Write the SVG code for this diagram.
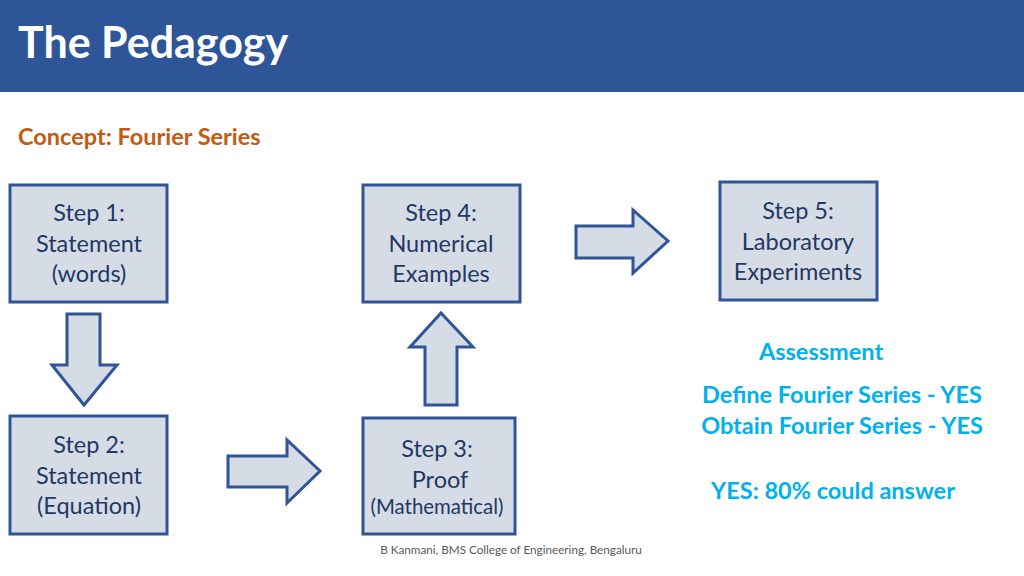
<svg xmlns="http://www.w3.org/2000/svg" width="1024" height="576" viewBox="0 0 1024 576">
<style>
.box{fill:#D6DCE5;stroke:#2F5597;stroke-width:3}
.arr{fill:#D6DCE5;stroke:#2F5597;stroke-width:3;stroke-linejoin:miter}
.t{font-family:Lato,"Open Sans",sans-serif;font-size:23.5px;fill:#1F3864;text-anchor:middle}
.s{font-size:20.4px}
.a{font-family:Lato,"Open Sans",sans-serif;font-size:23.5px;font-weight:bold;fill:#00B0F0;text-anchor:middle}
</style>
<rect width="1024" height="576" fill="#fff"/>
<rect width="1024" height="92" fill="#2E5597"/>
<text x="18" y="58" font-family="Lato,'Open Sans',sans-serif" font-size="43" font-weight="bold" fill="#fff">The Pedagogy</text>
<text x="18" y="145" font-family="Lato,'Open Sans',sans-serif" font-size="23.5" font-weight="bold" fill="#C55A11">Concept: Fourier Series</text>
<g id="step1"><rect class="box" x="10" y="185" width="157" height="117"/>
<text class="t" x="89" y="221">Step 1:</text><text class="t" x="89" y="252">Statement</text><text class="t" x="89" y="282">(words)</text></g>
<g id="step4"><rect class="box" x="363" y="185" width="157" height="117"/>
<text class="t" x="441" y="221">Step 4:</text><text class="t" x="441" y="252">Numerical</text><text class="t" x="441" y="282">Examples</text></g>
<g id="step5"><rect class="box" x="720" y="182" width="157" height="118"/>
<text class="t" x="798" y="219">Step 5:</text><text class="t" x="798" y="250">Laboratory</text><text class="t" x="798" y="280">Experiments</text></g>
<g id="step2"><rect class="box" x="10" y="416" width="157" height="118"/>
<text class="t" x="89" y="453">Step 2:</text><text class="t" x="89" y="484">Statement</text><text class="t" x="89" y="514">(Equation)</text></g>
<g id="step3"><rect class="box" x="363" y="418" width="152" height="116"/>
<text class="t" x="437" y="457">Step 3:</text><text class="t" x="440" y="488">Proof</text><text class="t s" x="437" y="514">(Mathematical)</text></g>
<g id="connectors">
<polygon class="arr" points="67,314 100,314 100,365 117,365 84,405 52,365 67,365"/>
<polygon class="arr" points="228,456 287,456 287,440 320,471 287,503 287,487 228,487"/>
<polygon class="arr" points="425,405 457,405 457,347 473,347 441,313 410,347 425,347"/>
<polygon class="arr" points="576,226 633,226 633,210 668,241 633,273 633,258 576,258"/>
</g>
<g id="assessment">
<text class="a" x="821" y="360">Assessment</text>
<text class="a" x="842" y="403">Define Fourier Series - YES</text>
<text class="a" x="842" y="434">Obtain Fourier Series - YES</text>
<text class="a" x="833" y="499">YES:  80% could answer</text>
</g>
<text x="511" y="554" font-family="Lato,'Open Sans',sans-serif" font-size="11.7" fill="#595959" text-anchor="middle">B Kanmani, BMS College of Engineering, Bengaluru</text>
</svg>
